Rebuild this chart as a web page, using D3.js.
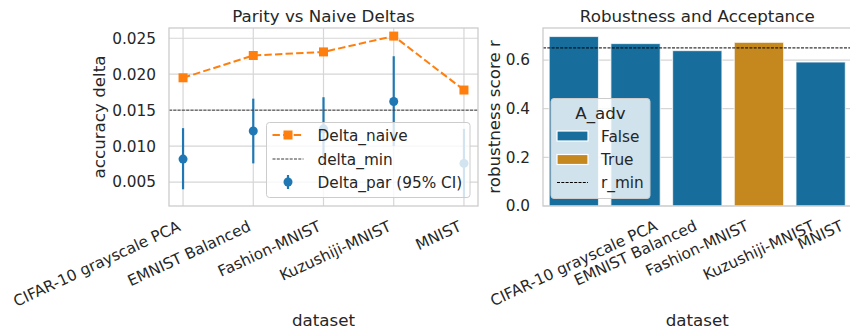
<!DOCTYPE html>
<html>
<head>
<meta charset="utf-8">
<script src="https://cdn.jsdelivr.net/npm/d3@7"></script>
<style>
  body { margin: 0; background: #ffffff; }
  text { font-family: "DejaVu Sans", sans-serif; fill: #262626; }
</style>
</head>
<body>
<div id="my_dataviz"></div>
<script>
// data
var datasets = ["CIFAR-10 grayscale PCA", "EMNIST Balanced", "Fashion-MNIST", "Kuzushiji-MNIST", "MNIST"];
var deltaNaive = [0.0195, 0.0226, 0.0231, 0.0253, 0.0178];
var deltaPar = [0.0082, 0.0121, 0.0124, 0.0162, 0.0076];
var deltaParLo = [0.0040, 0.0076, 0.0081, 0.0100, 0.0028];
var deltaParHi = [0.0125, 0.0166, 0.0168, 0.0225, 0.0124];
var deltaMin = 0.015;
var robustness = [0.697, 0.668, 0.639, 0.673, 0.592];
var aAdv = [false, false, false, true, false];
var rMin = 0.65;
var leftTicks = [0.005, 0.010, 0.015, 0.020, 0.025];
var rightTicks = [0.0, 0.2, 0.4, 0.6];

var tickSize = 15.3, labelSize = 16.7;
var gridColor = "#d6d6d6", edgeColor = "#cccccc";
var blue = "#176d9c", orange = "#c4881f";

var svg = d3
  .select("#my_dataviz")
  .append("svg")
  .attr("width", 850)
  .attr("height", 330);

// axes boxes
var L = { x0: 169, x1: 478, y0: 28, y1: 206 };
var R = { x0: 543, x1: 851.5, y0: 28, y1: 206 };

// ---------- left panel: parity vs naive ----------
var x = d3.scalePoint().domain(datasets).range([L.x0, L.x1]).padding(0.2);

var allVals = deltaNaive.concat(deltaParLo, deltaParHi, [deltaMin]);
var lo = d3.min(allVals), hi = d3.max(allVals), m = (hi - lo) * 0.05;
var y = d3.scaleLinear().domain([lo - m, hi + m]).range([L.y1, L.y0]);

var gl = svg.append("g");

// grid
gl.selectAll(".hgrid")
  .data(leftTicks)
  .enter()
  .append("line")
  .attr("x1", L.x0).attr("x2", L.x1)
  .attr("y1", function (d) { return y(d); })
  .attr("y2", function (d) { return y(d); })
  .style("stroke", gridColor).style("stroke-width", 1.2);
gl.selectAll(".vgrid")
  .data(datasets)
  .enter()
  .append("line")
  .attr("y1", L.y0).attr("y2", L.y1)
  .attr("x1", function (d) { return x(d); })
  .attr("x2", function (d) { return x(d); })
  .style("stroke", gridColor).style("stroke-width", 1.2);

// y axis labels
var yAxisL = gl.append("g")
  .attr("transform", "translate(" + L.x0 + ",0)")
  .call(d3.axisLeft(y).tickValues(leftTicks).tickFormat(d3.format(".3f")).tickSize(0).tickPadding(13));
yAxisL.select(".domain").remove();
yAxisL.selectAll("text").style("font-size", tickSize + "px").style("font-family", "DejaVu Sans").attr("fill", "#262626");

// error bars for Delta_par
gl.selectAll(".ebar")
  .data(datasets)
  .enter()
  .append("line")
  .attr("x1", function (d) { return x(d); })
  .attr("x2", function (d) { return x(d); })
  .attr("y1", function (d, i) { return y(deltaParLo[i]); })
  .attr("y2", function (d, i) { return y(deltaParHi[i]); })
  .style("stroke", "#1f77b4").style("stroke-width", 2.2);
gl.selectAll(".edot")
  .data(datasets)
  .enter()
  .append("circle")
  .attr("cx", function (d) { return x(d); })
  .attr("cy", function (d, i) { return y(deltaPar[i]); })
  .attr("r", 4.5)
  .style("fill", "#1f77b4");

// naive line
var naiveLine = d3.line()
  .x(function (d, i) { return x(datasets[i]); })
  .y(function (d) { return y(d); });
gl.append("path")
  .datum(deltaNaive)
  .attr("d", naiveLine)
  .style("fill", "none")
  .style("stroke", "#ff7f0e")
  .style("stroke-width", 2)
  .style("stroke-dasharray", "7.4,3.2");
gl.selectAll(".sq")
  .data(deltaNaive)
  .enter()
  .append("rect")
  .attr("x", function (d, i) { return x(datasets[i]) - 4.5; })
  .attr("y", function (d) { return y(d) - 4.5; })
  .attr("width", 9).attr("height", 9)
  .style("fill", "#ff7f0e");

// delta_min
gl.append("line")
  .attr("x1", L.x0).attr("x2", L.x1)
  .attr("y1", y(deltaMin)).attr("y2", y(deltaMin))
  .style("stroke", "#3a3a3a").style("stroke-width", 1)
  .style("stroke-dasharray", "3,1.3");

// frame
gl.append("rect")
  .attr("x", L.x0).attr("y", L.y0)
  .attr("width", L.x1 - L.x0).attr("height", L.y1 - L.y0)
  .style("fill", "none").style("stroke", edgeColor).style("stroke-width", 1.3);

// x tick labels, rotated and right aligned
gl.selectAll(".xl")
  .data(datasets)
  .enter()
  .append("text")
  .attr("text-anchor", "end")
  .attr("transform", function (d) {
    return "translate(" + (x(d) - 1.5) + "," + 230 + ") rotate(-25)";
  })
  .style("font-size", tickSize + "px")
  .text(function (d) { return d; });

// titles
gl.append("text").attr("x", (L.x0 + L.x1) / 2).attr("y", 22)
  .attr("text-anchor", "middle").style("font-size", labelSize + "px")
  .text("Parity vs Naive Deltas");
gl.append("text").attr("x", (L.x0 + L.x1) / 2).attr("y", 326)
  .attr("text-anchor", "middle").style("font-size", labelSize + "px")
  .text("dataset");
gl.append("text")
  .attr("transform", "translate(105," + (L.y0 + L.y1) / 2 + ") rotate(-90)")
  .attr("text-anchor", "middle").style("font-size", labelSize + "px")
  .text("accuracy delta");

// legend (left)
var lg = gl.append("g").attr("transform", "translate(266.5,122.5)");
lg.append("rect")
  .attr("width", 203.5).attr("height", 75).attr("rx", 3)
  .style("fill", "white").style("fill-opacity", 0.8)
  .style("stroke", edgeColor).style("stroke-width", 1);
var lgRows = [12.5, 36.5, 59.5];
lg.append("line").attr("x1", 6).attr("x2", 37).attr("y1", lgRows[0]).attr("y2", lgRows[0])
  .style("stroke", "#ff7f0e").style("stroke-width", 2).style("stroke-dasharray", "7.4,3.2");
lg.append("rect").attr("x", 17).attr("y", lgRows[0] - 4.5).attr("width", 9).attr("height", 9)
  .style("fill", "#ff7f0e");
lg.append("line").attr("x1", 6).attr("x2", 37).attr("y1", lgRows[1]).attr("y2", lgRows[1])
  .style("stroke", "#3a3a3a").style("stroke-width", 1).style("stroke-dasharray", "3,1.3");
lg.append("line").attr("x1", 21.5).attr("x2", 21.5).attr("y1", lgRows[2] - 7).attr("y2", lgRows[2] + 7)
  .style("stroke", "#1f77b4").style("stroke-width", 2.2);
lg.append("circle").attr("cx", 21.5).attr("cy", lgRows[2]).attr("r", 4.5).style("fill", "#1f77b4");
lg.selectAll(".lt")
  .data(["Delta_naive", "delta_min", "Delta_par (95% CI)"])
  .enter()
  .append("text")
  .attr("x", 51)
  .attr("y", function (d, i) { return lgRows[i] + 5.5; })
  .style("font-size", tickSize + "px")
  .text(function (d) { return d; });

// ---------- right panel: robustness bars ----------
var xb = d3.scaleBand().domain(datasets).range([R.x0, R.x1]).paddingInner(0.2).paddingOuter(0.1);
var yb = d3.scaleLinear().domain([0, d3.max(robustness) * 1.05]).range([R.y1, R.y0]);

var gr = svg.append("g");

gr.selectAll(".hgrid")
  .data(rightTicks)
  .enter()
  .append("line")
  .attr("x1", R.x0).attr("x2", R.x1)
  .attr("y1", function (d) { return yb(d); })
  .attr("y2", function (d) { return yb(d); })
  .style("stroke", gridColor).style("stroke-width", 1.2);

var yAxisR = gr.append("g")
  .attr("transform", "translate(" + R.x0 + ",0)")
  .call(d3.axisLeft(yb).tickValues(rightTicks).tickFormat(d3.format(".1f")).tickSize(0).tickPadding(13));
yAxisR.select(".domain").remove();
yAxisR.selectAll("text").style("font-size", tickSize + "px").style("font-family", "DejaVu Sans").attr("fill", "#262626");

gr.selectAll(".bar")
  .data(datasets)
  .enter()
  .append("rect")
  .attr("x", function (d) { return xb(d); })
  .attr("width", xb.bandwidth())
  .attr("y", function (d, i) { return yb(robustness[i]); })
  .attr("height", function (d, i) { return yb(0) - yb(robustness[i]); })
  .style("fill", function (d, i) { return aAdv[i] ? orange : blue; })
  .style("stroke", "#ffffff").style("stroke-width", 1.2).style("stroke-opacity", 0.7);

gr.append("line")
  .attr("x1", R.x0).attr("x2", R.x1)
  .attr("y1", yb(rMin)).attr("y2", yb(rMin))
  .style("stroke", "#000").style("stroke-width", 1)
  .style("stroke-dasharray", "3,1.3");

gr.append("rect")
  .attr("x", R.x0).attr("y", R.y0)
  .attr("width", R.x1 - R.x0).attr("height", R.y1 - R.y0)
  .style("fill", "none").style("stroke", edgeColor).style("stroke-width", 1.3);

// centered rotated tick labels
gr.selectAll(".xl")
  .data(datasets)
  .enter()
  .append("text")
  .attr("text-anchor", "middle")
  .attr("dy", "0.32em")
  .style("font-size", tickSize + "px")
  .text(function (d) { return d; })
  .attr("transform", function (d) {
    var w = this.getComputedTextLength();
    var h = tickSize * 1.16;
    var H = w * Math.sin(25 * Math.PI / 180) + h * Math.cos(25 * Math.PI / 180);
    var cx = xb(d) + xb.bandwidth() / 2;
    return "translate(" + cx + "," + (R.y1 + 11 + H / 2) + ") rotate(-25)";
  });

gr.append("text").attr("x", (R.x0 + R.x1) / 2).attr("y", 22)
  .attr("text-anchor", "middle").style("font-size", labelSize + "px")
  .text("Robustness and Acceptance");
gr.append("text").attr("x", (R.x0 + R.x1) / 2).attr("y", 326)
  .attr("text-anchor", "middle").style("font-size", labelSize + "px")
  .text("dataset");
gr.append("text")
  .attr("transform", "translate(500," + (R.y0 + R.y1) / 2 + ") rotate(-90)")
  .attr("text-anchor", "middle").style("font-size", labelSize + "px")
  .text("robustness score r");

// legend (right)
var rg = gr.append("g").attr("transform", "translate(551,98.5)");
rg.append("rect")
  .attr("width", 99).attr("height", 100).attr("rx", 3)
  .style("fill", "white").style("fill-opacity", 0.8)
  .style("stroke", edgeColor).style("stroke-width", 1);
rg.append("text").attr("x", 49.5).attr("y", 20).attr("text-anchor", "middle")
  .style("font-size", labelSize + "px").text("A_adv");
var rgRows = [37.5, 61, 84];
var swatch = [blue, orange];
rg.selectAll(".sw")
  .data(swatch)
  .enter()
  .append("rect")
  .attr("x", 6).attr("width", 31)
  .attr("y", function (d, i) { return rgRows[i] - 5; })
  .attr("height", 10)
  .style("fill", function (d) { return d; })
  .style("stroke", "#ffffff").style("stroke-width", 1.2);
rg.append("line").attr("x1", 6).attr("x2", 37).attr("y1", rgRows[2]).attr("y2", rgRows[2])
  .style("stroke", "#000").style("stroke-width", 1).style("stroke-dasharray", "3,1.3");
rg.selectAll(".rt")
  .data(["False", "True", "r_min"])
  .enter()
  .append("text")
  .attr("x", 50)
  .attr("y", function (d, i) { return rgRows[i] + 5.5; })
  .style("font-size", tickSize + "px")
  .text(function (d) { return d; });
</script>
</body>
</html>
